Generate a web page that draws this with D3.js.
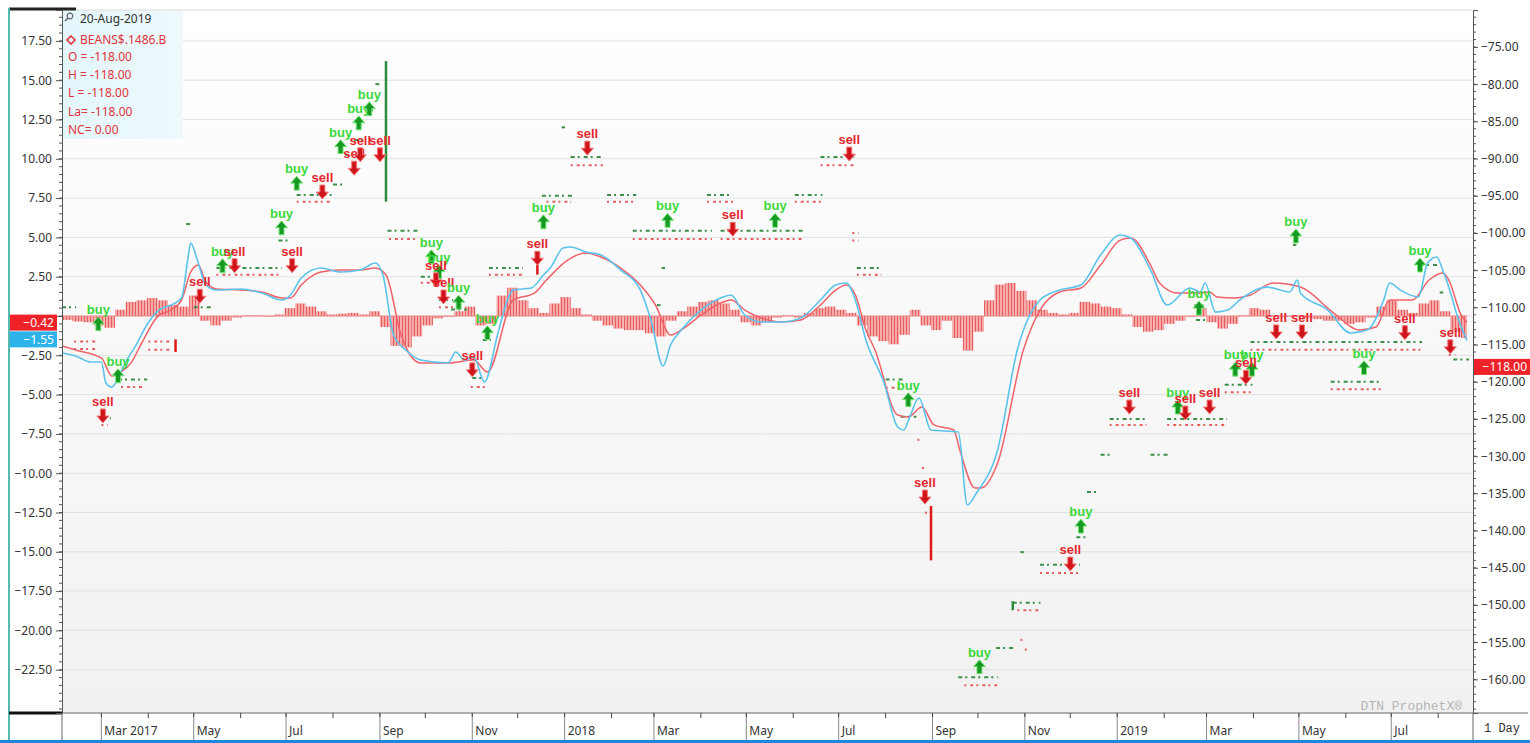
<!DOCTYPE html>
<html><head><meta charset="utf-8">
<script src="https://cdn.jsdelivr.net/npm/d3@7"></script>
<style>body{margin:0;background:#fff;overflow:hidden}svg{display:block}</style>
</head><body><svg id="c" width="1530" height="743"></svg>
<script>
// ---------------- DATA ----------------
const macdLine = [["2017-02-03",-2.35],["2017-02-12",-2.54],["2017-02-22",-2.93],["2017-03-01",-2.93],["2017-03-04",-4.26],["2017-03-08",-4.52],["2017-03-12",-3.94],["2017-03-17",-2.93],["2017-03-24",-1.84],["2017-03-31",-0.57],["2017-04-08",0.38],["2017-04-16",0.70],["2017-04-23",1.15],["2017-04-27",3.56],["2017-04-29",4.64],["2017-05-03",3.69],["2017-05-09",1.97],["2017-05-16",1.65],["2017-06-01",1.72],["2017-06-15",1.46],["2017-06-28",1.02],["2017-07-04",1.34],["2017-07-11",2.42],["2017-07-24",3.05],["2017-08-06",2.80],["2017-08-19",2.93],["2017-08-29",3.37],["2017-09-03",2.61],["2017-09-10",-1.21],["2017-09-18",-2.16],["2017-09-28",-2.80],["2017-10-16",-2.99],["2017-10-21",-2.29],["2017-10-27",-2.80],["2017-11-02",-2.61],["2017-11-09",-4.20],["2017-11-18",-1.08],["2017-11-25",1.21],["2017-11-28",1.65],["2017-12-10",1.78],["2017-12-18",2.61],["2017-12-23",3.12],["2017-12-31",4.33],["2018-01-05",4.39],["2018-01-15",4.07],["2018-01-25",3.88],["2018-02-07",2.93],["2018-02-20",1.65],["2018-02-27",-0.25],["2018-03-07",-3.18],["2018-03-12",-1.84],["2018-03-19",-0.89],["2018-04-01",0.38],["2018-04-14",1.15],["2018-04-21",1.34],["2018-04-30",0.06],["2018-05-11",-0.38],["2018-05-24",-0.38],["2018-06-06",-0.13],["2018-06-19",1.02],["2018-06-29",1.97],["2018-07-06",2.10],["2018-07-12",1.02],["2018-07-19",-1.53],["2018-07-31",-4.26],["2018-08-09",-7.06],["2018-08-13",-7.25],["2018-08-17",-6.42],["2018-08-23",-5.22],["2018-08-31",-7.25],["2018-09-18",-7.38],["2018-09-24",-12.02],["2018-09-30",-11.26],["2018-10-14",-8.52],["2018-10-27",-2.16],["2018-11-11",1.02],["2018-11-24",1.65],["2018-12-08",1.97],["2018-12-21",3.88],["2019-01-03",5.15],["2019-01-10",4.96],["2019-01-23",2.93],["2019-02-03",0.70],["2019-02-18",1.78],["2019-02-25",1.53],["2019-02-28",2.10],["2019-03-07",0.25],["2019-03-15",0.38],["2019-03-23",1.02],["2019-04-10",1.84],["2019-04-25",1.53],["2019-04-30",2.29],["2019-05-02",1.46],["2019-05-20",0.38],["2019-06-04",-1.08],["2019-06-15",-0.89],["2019-06-26",1.02],["2019-06-30",2.10],["2019-07-07",1.65],["2019-07-19",1.21],["2019-07-25",3.37],["2019-07-31",3.75],["2019-08-04",2.93],["2019-08-10",1.21],["2019-08-13",0.19],["2019-08-20",-1.55]];

const signalLine = [["2017-02-03",-1.91],["2017-02-12",-2.16],["2017-03-01",-2.67],["2017-03-08",-3.82],["2017-03-14",-3.56],["2017-03-21",-2.93],["2017-03-27",-1.84],["2017-04-08",0.06],["2017-04-16",0.38],["2017-04-23",1.02],["2017-04-29",2.80],["2017-05-04",3.24],["2017-05-09",2.16],["2017-05-16",1.72],["2017-06-01",1.65],["2017-06-15",1.53],["2017-06-28",1.15],["2017-07-04",1.15],["2017-07-11",1.97],["2017-07-24",2.80],["2017-08-06",2.93],["2017-08-19",2.93],["2017-08-29",3.05],["2017-09-05",2.61],["2017-09-15",-1.21],["2017-09-21",-2.48],["2017-09-28",-2.99],["2017-10-16",-2.99],["2017-11-02",-2.80],["2017-11-11",-3.56],["2017-11-28",1.02],["2017-12-12",1.46],["2017-12-20",2.29],["2018-01-03",3.56],["2018-01-15",4.01],["2018-01-25",3.75],["2018-02-07",3.05],["2018-02-20",1.97],["2018-03-02",0.70],["2018-03-12",-1.21],["2018-03-19",-0.89],["2018-04-01",0.06],["2018-04-14",0.83],["2018-04-21",1.02],["2018-04-30",0.38],["2018-05-11",-0.13],["2018-05-24",-0.38],["2018-06-06",-0.25],["2018-06-19",0.70],["2018-06-29",1.65],["2018-07-06",1.97],["2018-07-12",1.34],["2018-07-19",-0.89],["2018-07-25",-2.16],["2018-08-09",-6.30],["2018-08-16",-6.42],["2018-08-25",-5.79],["2018-09-02",-6.93],["2018-09-15",-7.25],["2018-09-19",-8.52],["2018-09-29",-10.94],["2018-10-03",-10.94],["2018-10-14",-9.35],["2018-10-31",-2.16],["2018-11-11",0.38],["2018-11-24",1.53],["2018-12-08",1.78],["2018-12-21",3.24],["2019-01-03",4.83],["2019-01-10",4.96],["2019-01-23",3.24],["2019-01-29",2.10],["2019-02-10",1.46],["2019-02-25",1.46],["2019-03-03",1.53],["2019-03-08",1.21],["2019-03-19",1.15],["2019-03-30",1.34],["2019-04-14",2.10],["2019-05-02",1.84],["2019-05-24",0.19],["2019-06-10",-0.89],["2019-06-21",-0.70],["2019-06-30",1.02],["2019-07-15",1.02],["2019-07-26",2.29],["2019-08-04",2.74],["2019-08-08",2.29],["2019-08-16",0.10],["2019-08-20",-0.42]];

// weekly histogram, first week starting histStart
const histStart = "2017-02-03";
const histLastDay = "2019-08-20";
const histValues = [-0.25,-0.35,-0.4,-0.6,-0.75,0.4,0.9,1.0,1.15,1.0,
 0.7,0.6,1.3,-0.3,-0.6,-0.3,-0.1,0.05,0.05,-0.05,
 0.1,0.5,0.8,0.6,0.3,0.1,0.15,0.2,0.1,0.3,
 -0.7,-1.9,-2.0,-1.3,-0.6,-0.15,-0.05,0.3,0.6,-0.6,
 -0.5,1.3,1.8,1.0,0.5,0.2,0.8,1.2,0.5,0.1,
 -0.3,-0.6,-0.8,-0.9,-0.9,-1.1,-1.3,-0.3,0.3,0.6,
 0.9,1.0,0.8,0.4,-0.4,-0.6,-0.4,-0.1,0.05,-0.1,
 0.2,0.5,0.6,0.4,0.2,-0.6,-1.3,-1.6,-1.8,-1.2,
 0.4,-0.6,-0.9,-0.3,-1.4,-2.2,-1.0,1.0,2.0,2.1,
 1.6,1.0,0.4,0.2,0.1,0.2,0.9,0.8,0.6,0.5,
 0.1,-0.7,-1.0,-0.9,-0.5,-0.3,-0.05,0.5,-0.4,-0.8,
 -0.5,0.05,0.5,0.4,0.05,-0.05,0.05,-0.1,-0.2,-0.3,
 -0.3,-0.5,-0.4,-0.1,0.6,1.0,0.4,0.2,0.8,1.0,
 0.3,-1.0,-1.4];

// price prints [start, end, price] (right axis)
const greenTicks = [["2017-02-03","2017-02-11",-110.0],["2017-03-02","2017-03-06",-124.9],["2017-03-12","2017-03-30",-119.7],["2017-04-26","2017-04-29",-98.8],["2017-05-01","2017-05-13",-110.0],["2017-05-16","2017-06-27",-104.7],["2017-06-26","2017-07-02",-101.0],["2017-07-08","2017-07-30",-94.9],["2017-08-01","2017-08-06",-93.5],["2017-08-09","2017-08-12",-89.5],["2017-08-15","2017-08-22",-87.5],["2017-08-22","2017-08-26",-83.5],["2017-08-29","2017-08-31",-80.0],["2017-09-06","2017-09-25",-99.7],["2017-09-28","2017-10-06",-105.9],["2017-10-10","2017-10-18",-109.0],["2017-10-18","2017-10-27",-110.3],["2017-11-01","2017-11-06",-119.5],["2017-11-08","2017-11-12",-114.4],["2017-11-12","2017-12-03",-104.7],["2017-12-17","2018-01-05",-95.0],["2017-12-30","2017-12-31",-85.8],["2018-01-05","2018-01-25",-89.8],["2018-01-29","2018-02-16",-94.9],["2018-02-15","2018-04-07",-99.7],["2018-03-03","2018-03-04",-109.7],["2018-03-06","2018-03-07",-104.7],["2018-04-05","2018-04-21",-94.9],["2018-04-14","2018-06-06",-99.7],["2018-06-02","2018-06-19",-94.9],["2018-06-19","2018-07-10",-89.8],["2018-07-13","2018-07-28",-104.7],["2018-08-01","2018-08-11",-119.7],["2018-08-11","2018-08-20",-124.7],["2018-09-18","2018-10-13",-159.7],["2018-10-13","2018-10-23",-155.8],["2018-10-24","2018-11-10",-149.7],["2018-10-29","2018-10-30",-142.9],["2018-11-11","2018-12-06",-144.6],["2018-12-05","2018-12-11",-140.9],["2018-12-12","2018-12-19",-134.8],["2018-12-21","2018-12-26",-129.8],["2018-12-27","2019-01-19",-125.0],["2019-01-23","2019-02-03",-129.8],["2019-02-03","2019-03-13",-125.0],["2019-02-21","2019-02-28",-109.7],["2019-02-22","2019-02-27",-111.7],["2019-03-13","2019-03-30",-120.4],["2019-03-30","2019-07-20",-114.65],["2019-04-27","2019-04-28",-101.6],["2019-05-22","2019-06-24",-120.0],["2019-07-20","2019-08-01",-104.3],["2019-08-02","2019-08-03",-108.0],["2019-08-11","2019-08-20",-117.0]];

const redTicks = [["2017-02-11","2017-02-24",-114.6],["2017-02-11","2017-02-24",-115.6],["2017-03-01","2017-03-04",-125.8],["2017-03-14","2017-03-28",-120.7],["2017-04-01","2017-04-14",-114.6],["2017-04-01","2017-04-14",-115.7],["2017-05-16","2017-06-27",-105.6],["2017-07-08","2017-07-30",-95.8],["2017-09-07","2017-09-23",-100.8],["2017-09-28","2017-10-06",-106.7],["2017-10-10","2017-10-18",-110.0],["2017-10-31","2017-11-09",-120.7],["2017-11-12","2017-12-03",-105.6],["2017-12-20","2018-01-04",-95.8],["2018-01-05","2018-01-25",-90.9],["2018-01-29","2018-02-16",-95.8],["2018-02-15","2018-04-07",-100.8],["2018-04-05","2018-04-21",-95.8],["2018-04-14","2018-06-06",-100.8],["2018-06-02","2018-06-19",-95.8],["2018-06-19","2018-07-10",-90.9],["2018-07-10","2018-07-13",-100.0],["2018-07-10","2018-07-13",-101.0],["2018-07-13","2018-07-28",-105.6],["2018-08-01","2018-08-11",-120.8],["2018-08-22","2018-08-23",-127.8],["2018-08-25","2018-08-26",-131.6],["2018-08-27","2018-08-28",-137.6],["2018-09-22","2018-10-13",-160.8],["2018-10-29","2018-10-30",-154.7],["2018-11-01","2018-11-02",-156.0],["2018-10-27","2018-11-10",-150.7],["2018-11-11","2018-12-06",-145.7],["2018-12-27","2019-01-19",-125.8],["2019-02-03","2019-03-13",-125.8],["2019-03-13","2019-03-30",-121.4],["2019-03-30","2019-07-20",-115.7],["2019-05-22","2019-06-24",-121.0],["2019-08-08","2019-08-11",-116.4]];

// tall range bars [date, high, low, side]
const rangeBars = [["2017-04-19",-114.3,-116.0,"sell"],["2017-09-05",-76.9,-95.8,"buy"],["2017-12-14",-104.3,-105.6,"sell"],["2018-08-31",-136.7,-144.0,"sell"],["2018-10-24",-149.5,-150.7,"buy"]];

// trade signals [date, price, type]
const signals = [["2017-02-27",-112.2,"buy"],["2017-03-12",-119.2,"buy"],["2017-03-02",-124.6,"sell"],["2017-05-05",-108.5,"sell"],["2017-05-20",-104.4,"buy"],["2017-05-28",-104.4,"sell"],["2017-06-28",-99.3,"buy"],["2017-07-05",-104.4,"sell"],["2017-07-08",-93.3,"buy"],["2017-07-25",-94.5,"sell"],["2017-08-06",-88.4,"buy"],["2017-08-15",-91.3,"sell"],["2017-08-19",-89.5,"sell"],["2017-09-01",-89.5,"sell"],["2017-08-18",-85.2,"buy"],["2017-08-25",-83.3,"buy"],["2017-10-05",-103.2,"buy"],["2017-10-10",-105.2,"buy"],["2017-10-08",-106.3,"sell"],["2017-10-13",-108.6,"sell"],["2017-10-23",-109.3,"buy"],["2017-11-11",-113.4,"buy"],["2017-11-01",-118.4,"sell"],["2017-12-14",-103.4,"sell"],["2017-12-18",-98.5,"buy"],["2018-01-16",-88.6,"sell"],["2018-03-10",-98.3,"buy"],["2018-04-22",-99.5,"sell"],["2018-05-20",-98.3,"buy"],["2018-07-08",-89.4,"sell"],["2018-08-16",-122.4,"buy"],["2018-08-27",-135.5,"sell"],["2018-10-02",-158.3,"buy"],["2018-12-01",-144.5,"sell"],["2018-12-08",-139.4,"buy"],["2019-01-09",-123.4,"sell"],["2019-02-10",-123.4,"buy"],["2019-02-15",-124.2,"sell"],["2019-03-03",-123.4,"sell"],["2019-02-24",-110.1,"buy"],["2019-03-20",-118.3,"buy"],["2019-03-31",-118.3,"buy"],["2019-03-27",-119.4,"sell"],["2019-04-16",-113.3,"sell"],["2019-05-03",-113.3,"sell"],["2019-04-29",-100.4,"buy"],["2019-06-13",-118.1,"buy"],["2019-07-10",-113.4,"sell"],["2019-07-20",-104.3,"buy"],["2019-08-09",-115.3,"sell"]];

const leftTickValues = [17.5,15,12.5,10,7.5,5,2.5,0,-2.5,-5,-7.5,-10,-12.5,-15,-17.5,-20,-22.5];
const rightTickValues = [-75,-80,-85,-90,-95,-100,-105,-110,-115,-120,-125,-130,-135,-140,-145,-150,-155,-160];
const legendDate = "20-Aug-2019";
const legendSymbol = "BEANS$.1486.B";
const legendRows = ["O = -118.00","H = -118.00","L = -118.00","La= -118.00","NC= 0.00"];
const lastMacd = -1.55, lastHist = -0.42, lastPrice = -118.00;

// ---------------- CHART ----------------
const parse = d3.utcParse("%Y-%m-%d");
const svg = d3.select("#c");
const L=62,R=1473,T=10,B=713,AXB=740;
const FONT = "'Noto Sans', 'Open Sans', sans-serif";

const x = d3.scaleUtc().domain([parse("2017-02-03"), parse("2019-08-24")]).range([L,R]);
const yL = d3.scaleLinear().domain([-25.254,19.466]).range([B,T]);
const yR = d3.scaleLinear().domain([-164.52,-70.03]).range([B,T]);

const defs = svg.append("defs");
const bg = defs.append("linearGradient").attr("id","bg").attr("x1",0).attr("y1",0).attr("x2",0).attr("y2",1);
bg.append("stop").attr("offset","0").attr("stop-color","#ffffff");
bg.append("stop").attr("offset","1").attr("stop-color","#f1f1f1");
const pat = defs.append("pattern").attr("id","stripes").attr("patternUnits","userSpaceOnUse").attr("width",3).attr("height",10);
pat.append("rect").attr("width",3).attr("height",10).attr("fill","#f6aaaa");
pat.append("rect").attr("width",1).attr("height",10).attr("fill","#e65c5c");
const lg = defs.append("linearGradient").attr("id","lg").attr("x1",0).attr("y1",0).attr("x2",1).attr("y2",0);
lg.append("stop").attr("offset","0").attr("stop-color","#e3f6fb");
lg.append("stop").attr("offset","1").attr("stop-color","#eef9fc");
defs.append("clipPath").attr("id","clip").append("rect").attr("x",L).attr("y",T).attr("width",R-L).attr("height",B-T);

// background
svg.append("rect").attr("x",0).attr("y",0).attr("width",1530).attr("height",743).attr("fill","#fff");
svg.append("rect").attr("x",L).attr("y",T).attr("width",R-L).attr("height",B-T).attr("fill","url(#bg)");

// gridlines
svg.append("g").selectAll("line").data(leftTickValues).join("line")
  .attr("x1",L).attr("x2",R).attr("y1",d=>yL(d)).attr("y2",d=>yL(d))
  .attr("stroke","#e2e2e2").attr("stroke-width",1);

const plot = svg.append("g").attr("clip-path","url(#clip)");

// histogram
const h0 = parse(histStart), hEnd = parse(histLastDay);
const histData = histValues.map((v,i)=>({d0:d3.utcDay.offset(h0,7*i), d1:d3.utcDay.offset(h0,7*(i+1)), v}));
plot.append("g").selectAll("rect").data(histData).join("rect")
  .attr("x",d=>x(d.d0))
  .attr("width",d=>Math.max(0, x(d.d1 > hEnd ? hEnd : d.d1) - x(d.d0)))
  .attr("y",d=>Math.min(yL(d.v),yL(0)))
  .attr("height",d=>Math.abs(yL(d.v)-yL(0)))
  .attr("fill","url(#stripes)");
plot.append("line").attr("x1",x(h0)).attr("x2",x(hEnd)).attr("y1",yL(0)).attr("y2",yL(0))
  .attr("stroke","#f08a8a").attr("stroke-width",1);

// price prints
plot.append("g").selectAll("line").data(redTicks).join("line")
  .attr("x1",d=>x(parse(d[0]))).attr("x2",d=>x(parse(d[1]))+2)
  .attr("y1",d=>yR(d[2])).attr("y2",d=>yR(d[2]))
  .attr("stroke","#e46060").attr("stroke-width",2).attr("stroke-dasharray","2,4,3,3");
plot.append("g").selectAll("line").data(greenTicks).join("line")
  .attr("x1",d=>x(parse(d[0]))).attr("x2",d=>x(parse(d[1]))+2)
  .attr("y1",d=>yR(d[2])).attr("y2",d=>yR(d[2]))
  .attr("stroke","#3b8f4a").attr("stroke-width",2).attr("stroke-dasharray","4,3,2,4");

// lines
const lineL = d3.line().x(d=>x(parse(d[0]))).y(d=>yL(d[1])).curve(d3.curveMonotoneX);
plot.append("path").datum(signalLine).attr("d",lineL).attr("fill","none").attr("stroke","#f0626a").attr("stroke-width",1.5);
plot.append("path").datum(macdLine).attr("d",lineL).attr("fill","none").attr("stroke","#5cc3ec").attr("stroke-width",1.6);

// range bars
plot.append("g").selectAll("line").data(rangeBars).join("line")
  .attr("x1",d=>x(parse(d[0]))).attr("x2",d=>x(parse(d[0])))
  .attr("y1",d=>yR(d[1])).attr("y2",d=>yR(d[2]))
  .attr("stroke",d=>d[3]==="buy"?"#2e8b3e":"#e01818").attr("stroke-width",2.5);

// signals
const arrowDown = "M-2.5,-7 L2.5,-7 L2.5,0 L6,0 L0,7 L-6,0 L-2.5,0 Z";
const arrowUp = "M-2.5,7 L2.5,7 L2.5,0 L6,0 L0,-7 L-6,0 L-2.5,0 Z";
const sg = plot.append("g").selectAll("g").data(signals).join("g")
  .attr("transform",d=>`translate(${x(parse(d[0]))},${yR(d[1])})`);
sg.append("path").attr("d",d=>d[2]==="buy"?arrowUp:arrowDown)
  .attr("fill",d=>d[2]==="buy"?"#179a24":"#d0141c")
  .attr("stroke",d=>d[2]==="buy"?"#7de87d":"#f47a7a").attr("stroke-width",1);
sg.append("text").attr("y",-10).attr("text-anchor","middle")
  .attr("font-family","'Liberation Sans', Arial, sans-serif").attr("font-weight","bold").attr("font-size",13)
  .attr("fill",d=>d[2]==="buy"?"#3bd83b":"#e5262e")
  .text(d=>d[2]);

// legend box
svg.append("rect").attr("x",L+1).attr("y",T+1).attr("width",120).attr("height",128).attr("fill","url(#lg)");
const mg = svg.append("g").attr("transform","translate(70,16)");
mg.append("circle").attr("r",2.8).attr("fill","none").attr("stroke","#666").attr("stroke-width",1.2);
mg.append("line").attr("x1",-2).attr("y1",2).attr("x2",-5).attr("y2",5).attr("stroke","#666").attr("stroke-width",1.5);
svg.append("text").attr("x",80).attr("y",23).attr("font-family",FONT).attr("font-size",12).attr("fill","#333").text(legendDate);
svg.append("path").attr("d","M71,36 L75,40 L71,44 L67,40 Z").attr("fill","none").attr("stroke","#e0353b").attr("stroke-width",1.6);
svg.append("text").attr("x",80).attr("y",44).attr("font-family",FONT).attr("font-size",12).attr("fill","#e0353b").text(legendSymbol);
svg.append("g").selectAll("text").data(legendRows).join("text")
  .attr("x",68).attr("y",(d,i)=>61+i*18.2).attr("font-family",FONT).attr("font-size",12).attr("fill","#e0353b").text(d=>d);

// frame lines
svg.append("line").attr("x1",L).attr("x2",R).attr("y1",T).attr("y2",T).attr("stroke","#d8d8d8");
svg.append("line").attr("x1",9).attr("x2",76).attr("y1",9).attr("y2",9).attr("stroke","#222").attr("stroke-width",3);
svg.append("line").attr("x1",9).attr("x2",9).attr("y1",8).attr("y2",AXB).attr("stroke","#56b9b0").attr("stroke-width",2);
svg.append("line").attr("x1",9).attr("x2",L).attr("y1",B).attr("y2",B).attr("stroke","#111").attr("stroke-width",3);
svg.append("line").attr("x1",L).attr("x2",1528).attr("y1",B).attr("y2",B).attr("stroke","#666").attr("stroke-width",1);
svg.append("rect").attr("x",0).attr("y",AXB).attr("width",1530).attr("height",3).attr("fill","#1f86e0");

// left axis (the 0.00 label sits behind the value boxes, as in the reference)
const axL = svg.append("g").attr("transform",`translate(${L},0)`)
  .call(d3.axisLeft(yL).tickValues(leftTickValues).tickFormat(d=> d===0 ? "" : d3.format(".2f")(d)).tickSize(6).tickPadding(4));
axL.select(".domain").attr("stroke","#555");
axL.selectAll(".tick line").attr("stroke","#555");
axL.selectAll("text").attr("font-family",FONT).attr("font-size",12).attr("fill","#333");
svg.append("g").selectAll("line").data(d3.range(-25,19.5,0.5)).join("line")
  .attr("x1",L-3).attr("x2",L).attr("y1",d=>yL(d)).attr("y2",d=>yL(d)).attr("stroke","#555");

// right axis
const axR = svg.append("g").attr("transform",`translate(${R},0)`)
  .call(d3.axisRight(yR).tickValues(rightTickValues).tickFormat(d3.format(".2f")).tickSize(5).tickPadding(3));
axR.select(".domain").attr("stroke","#555");
axR.selectAll(".tick line").attr("stroke","#555");
axR.selectAll("text").attr("font-family",FONT).attr("font-size",12).attr("fill","#333");
svg.append("g").selectAll("line").data(d3.range(-164,-70,1)).join("line")
  .attr("x1",R).attr("x2",R+3).attr("y1",d=>yR(d)).attr("y2",d=>yR(d)).attr("stroke","#555");
svg.append("line").attr("x1",R).attr("x2",R).attr("y1",B).attr("y2",AXB).attr("stroke","#666");
svg.append("line").attr("x1",L).attr("x2",L).attr("y1",B).attr("y2",AXB).attr("stroke","#666");

// bottom axis
const months = d3.utcMonth.range(x.domain()[0], x.domain()[1]);
const fmtB = d3.utcFormat("%b"), fmtY = d3.utcFormat("%Y");
let first = true;
const bx = svg.append("g");
months.forEach(m=>{
  const px = x(m);
  if (m.getUTCMonth() % 2 === 0) {
    bx.append("line").attr("x1",px).attr("x2",px).attr("y1",B).attr("y2",AXB).attr("stroke","#888");
    bx.append("line").attr("x1",px).attr("x2",px).attr("y1",B).attr("y2",B+4).attr("stroke","#444");
    const label = first ? fmtB(m)+" "+fmtY(m) : (m.getUTCMonth()===0 ? fmtY(m) : fmtB(m));
    first = false;
    bx.append("text").attr("x",px+3).attr("y",735).attr("font-family",FONT).attr("font-size",12).attr("fill","#333").text(label);
  } else {
    bx.append("line").attr("x1",px).attr("x2",px).attr("y1",B).attr("y2",B+5).attr("stroke","#444");
  }
});
svg.append("text").attr("x",1484).attr("y",732).attr("font-family","'Liberation Mono', monospace").attr("font-size",12).attr("fill","#333").text("1 Day");

// watermark
svg.append("text").attr("x",1462).attr("y",710).attr("text-anchor","end")
  .attr("font-family","'Liberation Mono', 'Courier New', monospace").attr("font-size",13).attr("fill","#b4b4b4").text("DTN ProphetX®");

// value boxes
function box(xp, yc, w, color, txt){
  svg.append("rect").attr("x",xp).attr("y",yc-8).attr("width",w).attr("height",16).attr("fill",color);
  svg.append("text").attr("x",xp+w-3).attr("y",yc+4.5).attr("text-anchor","end")
    .attr("font-family",FONT).attr("font-size",12).attr("fill","#fff").text(txt);
}
box(10, yL(lastHist), 47, "#ee2228", d3.format(".2f")(lastHist));
box(10, yL(lastMacd)-1, 47, "#2eb3e8", d3.format(".2f")(lastMacd));
box(R+1, yR(lastPrice), 56, "#ee2228", d3.format(".2f")(lastPrice));
</script></body></html>
